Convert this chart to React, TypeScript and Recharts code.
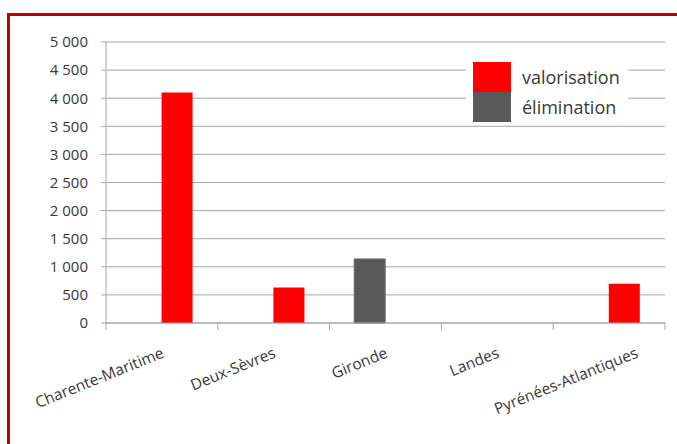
import React from "react";
import { BarChart, Bar, XAxis, YAxis, CartesianGrid, Legend } from "recharts";

const categories = [
  "Charente-Maritime",
  "Deux-Sèvres",
  "Gironde",
  "Landes",
  "Pyrénées-Atlantiques",
];
const valorisation = [4100, 630, 0, 0, 700];
const elimination = [0, 0, 1140, 0, 0];
const yTicks = [0, 500, 1000, 1500, 2000, 2500, 3000, 3500, 4000, 4500, 5000];
const seriesNames = ["valorisation", "élimination"];
const seriesColors = ["#ff0000", "#595959"];

const data = categories.map((name, i) => ({
  name,
  valorisation: valorisation[i],
  elimination: elimination[i],
}));

const W = 677;
const H = 444;
const PLOT_LEFT = 106;
const PLOT_RIGHT = 665;
const FONT = "'Open Sans', sans-serif";
const TEXT = "#383838";
const GRID = "#a6a6a6";

const fmt = (v: number) => String(v).replace(/\B(?=(\d{3})+(?!\d))/g, " ");

const CategoryTick = (props: any) => {
  const { x, y, payload, index } = props;
  const band = (PLOT_RIGHT - PLOT_LEFT) / categories.length;
  const last = index === categories.length - 1;
  // excel pushes the last label right so it doesn't run into "Landes"
  const tx = x + (last ? 30 : 3);
  const ty = y + 34;
  return (
    <g>
      <line x1={x - band / 2} x2={x - band / 2} y1={y} y2={y + 7} stroke={GRID} />
      {last && <line x1={x + band / 2} x2={x + band / 2} y1={y} y2={y + 7} stroke={GRID} />}
      <text
        x={tx}
        y={ty}
        transform={`rotate(-22 ${tx} ${ty})`}
        textAnchor="end"
        fill={TEXT}
        fontSize={15.5}
        fontFamily={FONT}
      >
        {payload.value}
      </text>
    </g>
  );
};

const renderLegend = () => (
  <div style={{ background: "#fff", padding: "2px 7px", width: 148 }}>
    {seriesNames.map((n, i) => (
      <div key={n} style={{ display: "flex", alignItems: "center", height: 30 }}>
        <div style={{ width: 38, height: 30, background: seriesColors[i] }} />
        <span
          style={{
            marginLeft: 11,
            fontSize: 18,
            fontFamily: FONT,
            color: TEXT,
            lineHeight: "30px",
          }}
        >
          {n}
        </span>
      </div>
    ))}
  </div>
);

const App = () => {
  return (
    <div style={{ position: "absolute", left: 0, top: 0, width: W, height: H, background: "#fff" }}>
      <div
        style={{
          position: "absolute",
          left: 7,
          top: 13,
          width: W - 7,
          height: H - 13,
          borderLeft: "3px solid #c00000",
          borderTop: "3px solid #c00000",
          boxSizing: "border-box",
        }}
      />
      <BarChart
        width={W}
        height={H}
        data={data}
        margin={{ top: 42, right: W - PLOT_RIGHT, bottom: 0, left: 0 }}
        barCategoryGap="22%"
        barGap={0}
      >
        <CartesianGrid vertical={false} stroke={GRID} />
        <XAxis
          dataKey="name"
          height={121}
          interval={0}
          tickLine={false}
          tickSize={0}
          tickMargin={0}
          axisLine={{ stroke: GRID }}
          tick={<CategoryTick />}
        />
        <YAxis
          width={PLOT_LEFT}
          domain={[0, 5000]}
          ticks={yTicks}
          interval={0}
          tickSize={5}
          tickMargin={13}
          tickFormatter={fmt}
          axisLine={{ stroke: GRID }}
          tickLine={{ stroke: GRID }}
          tick={{ fill: TEXT, fontSize: 15, fontFamily: FONT }}
        />
        <Legend
          layout="vertical"
          align="center"
          verticalAlign="middle"
          content={renderLegend}
          wrapperStyle={{ left: 466, top: 60, width: 162 }}
        />
        <Bar dataKey="elimination" name="élimination" fill="#595959" stroke="#6e6e6e" isAnimationActive={false} />
        <Bar dataKey="valorisation" name="valorisation" fill="#ff0000" isAnimationActive={false} />
      </BarChart>
    </div>
  );
};

export default App;
